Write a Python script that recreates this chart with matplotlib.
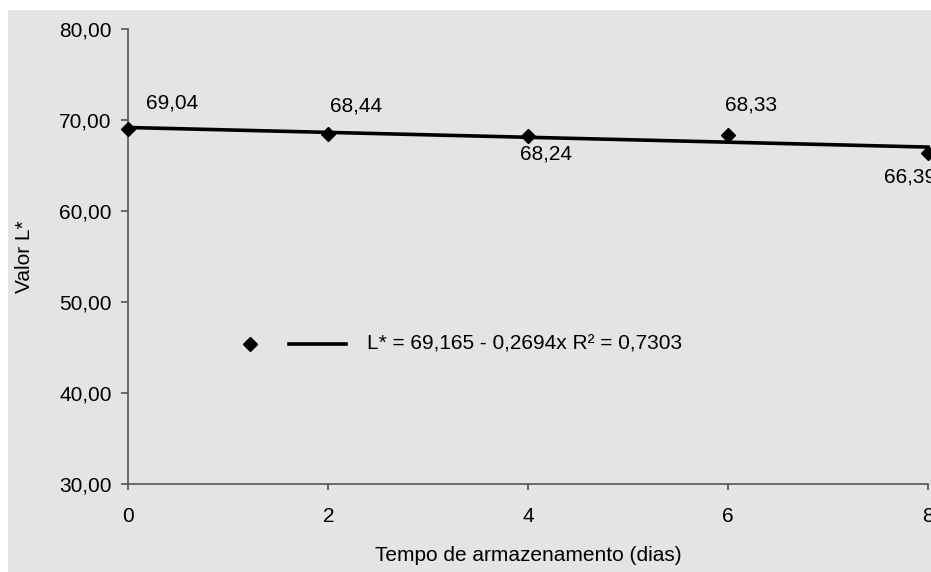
import matplotlib.pyplot as plt
from matplotlib.lines import Line2D
from matplotlib.patches import Rectangle
import numpy as np

plt.rcParams['font.family'] = ['Liberation Sans', 'DejaVu Sans']

dias = [0, 2, 4, 6, 8]
valor_l = [69.04, 68.44, 68.24, 68.33, 66.39]
rotulos = ['69,04', '68,44', '68,24', '68,33', '66,39']
# where each value label sits relative to its point (pixels)
desloc = [(18, 26), (2, 28), (-8, -18), (-3, 30), (-44, -24)]

a, b = 69.165, -0.2694
eq_texto = 'L* = 69,165 - 0,2694x R² = 0,7303'

cinza = '#e4e4e4'

fig = plt.figure(figsize=(9.31, 5.72), dpi=100)
fig.patch.set_facecolor('white')
fig.patches.append(Rectangle((8 / 931, 0), 1, 1 - 10 / 572, transform=fig.transFigure,
                             facecolor=cinza, edgecolor='none', zorder=-10))

ax = fig.add_axes([0.138, 0.1547, 0.8588, 0.7946])
ax.set_facecolor(cinza)

xs = np.array([0, 8])
ax.plot(xs, a + b * xs, color='black', lw=2.6, zorder=2, clip_on=False)
ax.plot(dias, valor_l, linestyle='none', marker='D', ms=7.2, color='black',
        zorder=3, clip_on=False)

for x, y, t, (dx, dy) in zip(dias, valor_l, rotulos, desloc):
    ax.annotate(t, (x, y), xytext=(dx, dy), textcoords='offset pixels',
                ha='left', va='center', fontsize=15, annotation_clip=False)

ax.set_xlim(0, 8)
ax.set_ylim(30, 80)
ax.set_xticks(dias)
ax.set_yticks(np.arange(30, 81, 10))
ax.set_yticklabels([f'{v:.2f}'.replace('.', ',') for v in range(30, 81, 10)])

for s in ['top', 'right']:
    ax.spines[s].set_visible(False)
for s in ['left', 'bottom']:
    ax.spines[s].set_color('#555555')
    ax.spines[s].set_linewidth(1.2)

ax.tick_params(axis='y', length=5, width=1.2, color='#555555', pad=7, labelsize=15)
ax.tick_params(axis='x', length=4, width=1.2, color='#555555', pad=13, labelsize=15)

ax.set_xlabel('Tempo de armazenamento (dias)', fontsize=15, labelpad=14)
ax.set_ylabel('Valor L*', fontsize=15, labelpad=12)
ax.yaxis.set_label_coords(-0.118, 0.5)

# legend drawn by hand: marker, trend line sample, equation
ax.add_line(Line2D([0.152], [0.307], transform=ax.transAxes, marker='D', ms=7.2,
                   color='black', linestyle='none'))
ax.add_line(Line2D([0.2006, 0.2719], [0.307, 0.307], transform=ax.transAxes,
                   color='black', lw=2.6))
ax.text(0.298, 0.307, eq_texto, transform=ax.transAxes, fontsize=15, va='center', ha='left')

fig.savefig('out.png', dpi=100, facecolor=fig.get_facecolor())
